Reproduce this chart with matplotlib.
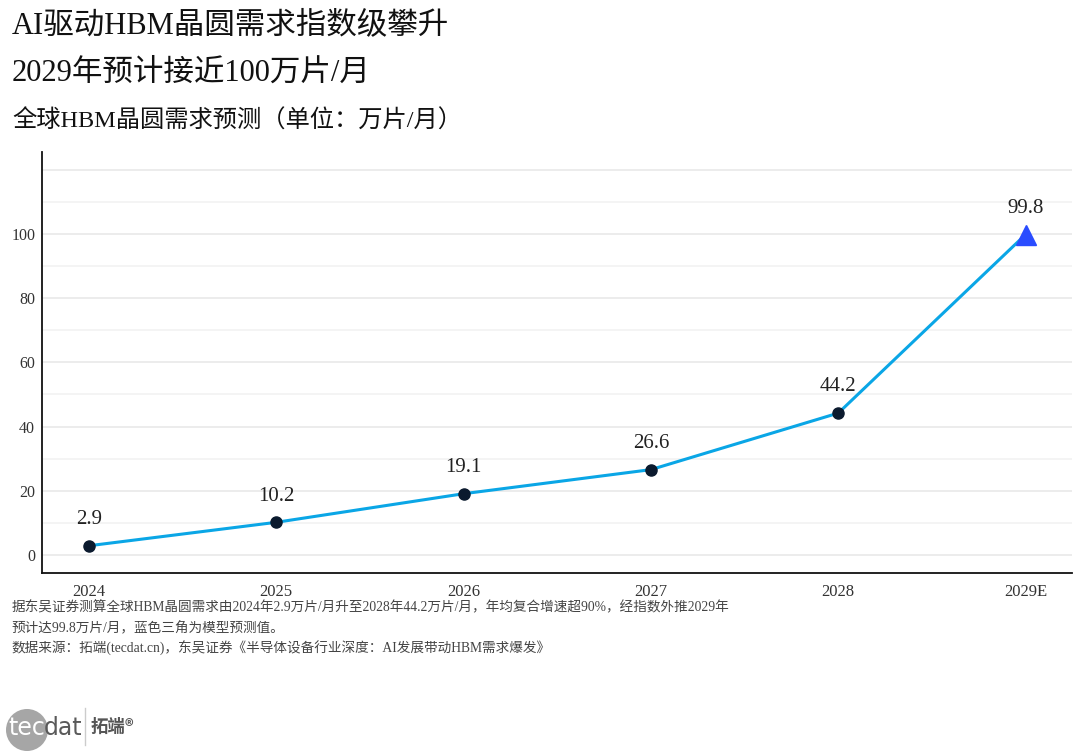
import matplotlib
matplotlib.use("Agg")
import matplotlib.pyplot as plt
from matplotlib.patches import Ellipse

plt.rcParams['font.family'] = ['Liberation Serif', 'Noto Sans CJK SC', 'DejaVu Sans']

# data
years = ['2024', '2025', '2026', '2027', '2028', '2029E']
demand = [2.9, 10.2, 19.1, 26.6, 44.2, 99.8]
y_ticks = [0, 20, 40, 60, 80, 100]

title1 = 'AI驱动HBM晶圆需求指数级攀升'
title2 = '2029年预计接近100万片/月'
subtitle = '全球HBM晶圆需求预测（单位：万片/月）'
note1 = '据东吴证券测算全球HBM晶圆需求由2024年2.9万片/月升至2028年44.2万片/月，年均复合增速超90%，经指数外推2029年'
note2 = '预计达99.8万片/月，蓝色三角为模型预测值。'
note3 = '数据来源：拓端(tecdat.cn)，东吴证券《半导体设备行业深度：AI发展带动HBM需求爆发》'

line_color = '#0aa6e6'
dot_color = '#0b1a2e'
tri_color = '#2a4cff'

W, H = 1080, 756
fig = plt.figure(figsize=(W / 100, H / 100), dpi=100)
ax = fig.add_axes([0.039, 0.242, 0.954, 0.557])

x = list(range(len(years)))
ax.plot(x, demand, color=line_color, lw=2.2, zorder=3)
ax.plot(x[:-1], demand[:-1], 'o', color=dot_color, ms=8, zorder=4)
ax.plot(x[-1], demand[-1], '^', color=tri_color, ms=15, zorder=4)

for xi, v in zip(x, demand):
    ax.annotate(f'{v:.1f}', (xi, v), xytext=(0, 12), textcoords='offset points',
                ha='center', va='bottom', fontsize=15, color='#222222')

# grid
for g in range(0, 130, 10):
    ax.axhline(g, color='#ebebeb' if g % 20 == 0 else '#f3f3f3', lw=1.3, zorder=0)

ax.set_xlim(-0.25, 5.25)
ax.set_ylim(-5.6, 125.5)
ax.set_xticks(x)
ax.set_xticklabels(years, fontsize=12, color='#333333')
ax.set_yticks(y_ticks)
ax.set_yticklabels([str(t) for t in y_ticks], fontsize=11.5, color='#333333')
ax.tick_params(length=0)
ax.tick_params(axis='x', pad=8)
ax.tick_params(axis='y', pad=5)
for s in ['top', 'right']:
    ax.spines[s].set_visible(False)
for s in ['left', 'bottom']:
    ax.spines[s].set_color('#111111')
    ax.spines[s].set_linewidth(1.3)

# titles
fig.text(0.011, 0.966, title1, fontsize=22, va='center', ha='left', color='#111111')
fig.text(0.011, 0.903, title2, fontsize=22, va='center', ha='left', color='#111111')
fig.text(0.011, 0.840, subtitle, fontsize=17.5, va='center', ha='left', color='#111111')

# notes
fig.text(0.011, 0.196, note1, fontsize=9.8, va='center', ha='left', color='#444444')
fig.text(0.011, 0.168, note2, fontsize=9.8, va='center', ha='left', color='#444444')
fig.text(0.011, 0.142, note3, fontsize=9.8, va='center', ha='left', color='#444444')

# logo
fig.patches.append(Ellipse((27 / W, 1 - 730 / H), 42 / W, 42 / H, transform=fig.transFigure,
                           facecolor='#a6a6a6', edgecolor='none'))
fig.text(8 / W, 1 - 728 / H, 'tec', fontsize=17, color='white', va='center', ha='left',
         family='Liberation Sans Narrow')
fig.text(44 / W, 1 - 728 / H, 'dat', fontsize=17, color='#5a5a5a', va='center', ha='left',
         family='Liberation Sans Narrow')
fig.lines.append(plt.Line2D([85 / W, 85 / W], [1 - 745 / H, 1 - 708 / H],
                            transform=fig.transFigure, color='#cccccc', lw=1))
fig.text(91 / W, 1 - 727 / H, '拓端®', fontsize=12.5, color='#555555', va='center', ha='left',
         family=['Noto Sans CJK SC', 'DejaVu Sans'], weight='bold')

fig.savefig('out.png', dpi=100)
